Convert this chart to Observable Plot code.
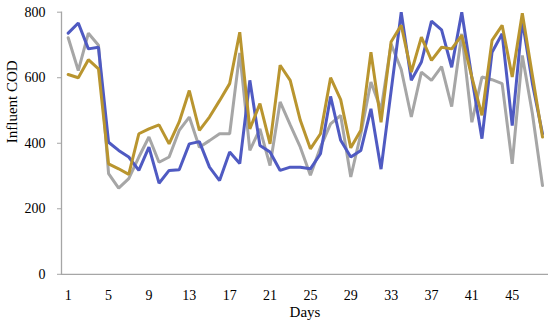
<!DOCTYPE html>
<html>
<head>
<meta charset="utf-8">
<script src="https://cdn.jsdelivr.net/npm/d3@7"></script>
<script src="https://cdn.jsdelivr.net/npm/@observablehq/plot@0.6"></script>
<style>
  html, body { margin: 0; padding: 0; background: #fff; }
  #chart svg { display: block; }
</style>
</head>
<body>
<div id="chart"></div>
<script>
// ---- data ----
const days = [1,2,3,4,5,6,7,8,9,10,11,12,13,14,15,16,17,18,19,20,21,22,23,24,
              25,26,27,28,29,30,31,32,33,34,35,36,37,38,39,40,41,42,43,44,45,46,47,48];

const seriesNames = ["Series 1", "Series 2", "Series 3"];
const seriesColors = ["#a6a6a6", "#4f5ac2", "#b9952f"];

const series1 = [722,622,736,699,307,263,292,358,419,342,358,439,480,388,408,429,429,676,378,444,332,526,456,388,
                 302,388,459,485,297,429,587,502,703,625,480,617,592,634,512,734,464,602,594,582,337,668,490,271];
const series2 = [736,767,688,693,403,378,358,317,388,278,317,319,398,405,327,286,373,338,592,393,373,317,327,327,
                 322,368,543,409,358,378,505,321,560,800,592,648,773,746,632,800,600,414,678,734,454,775,582,429];
const series3 = [610,600,655,627,337,322,305,429,444,456,398,465,561,439,480,530,582,739,444,521,398,638,592,470,
                 383,429,600,533,386,440,678,464,710,760,617,724,653,693,688,729,602,485,714,760,602,797,607,419];

const xTicks = [1,5,9,13,17,21,25,29,33,37,41,45];
const yTicks = [0,200,400,600,800];
const xLabel = "Days";
const yLabel = "Influent COD";

// ---- tidy table ----
const allSeries = [series1, series2, series3];
const table = [];
allSeries.forEach((vals, k) => {
  vals.forEach((v, i) => table.push({day: days[i], value: v, series: seriesNames[k]}));
});

const axisColor = "#a6a6a6";

const chart = Plot.plot({
  width: 550,
  height: 328,
  marginLeft: 61,
  marginRight: 2,
  marginTop: 11.7,
  marginBottom: 54.2,
  style: {fontFamily: "'Liberation Serif', 'Times New Roman', serif", color: "#000", background: "#fff"},
  x: {domain: [1, 48], insetLeft: 6.7, insetRight: 6},
  y: {domain: [0, 800]},
  color: {domain: seriesNames, range: seriesColors},
  marks: [
    Plot.ruleY([0], {stroke: axisColor, strokeWidth: 1.3}),
    Plot.frame({anchor: "left", stroke: axisColor, strokeWidth: 1.3}),
    Plot.axisY({ticks: yTicks, tickSize: 4, tickPadding: 12, stroke: axisColor, fontSize: 14, label: null, tickFormat: d => String(d)}),
    Plot.axisX({ticks: xTicks, tickSize: 0, tickPadding: 16, fontSize: 14, label: null, tickFormat: d => String(d)}),
    Plot.text([yLabel], {frameAnchor: "left", rotate: -90, dx: -49, fontSize: 15, fill: "#000"}),
    Plot.text([xLabel], {frameAnchor: "bottom", dy: 43, fontSize: 15, fill: "#000"}),
    Plot.line(table, {x: "day", y: "value", z: "series", stroke: "series", strokeWidth: 3, strokeLinejoin: "miter"})
  ]
});

document.getElementById("chart").appendChild(chart);
</script>
</body>
</html>
